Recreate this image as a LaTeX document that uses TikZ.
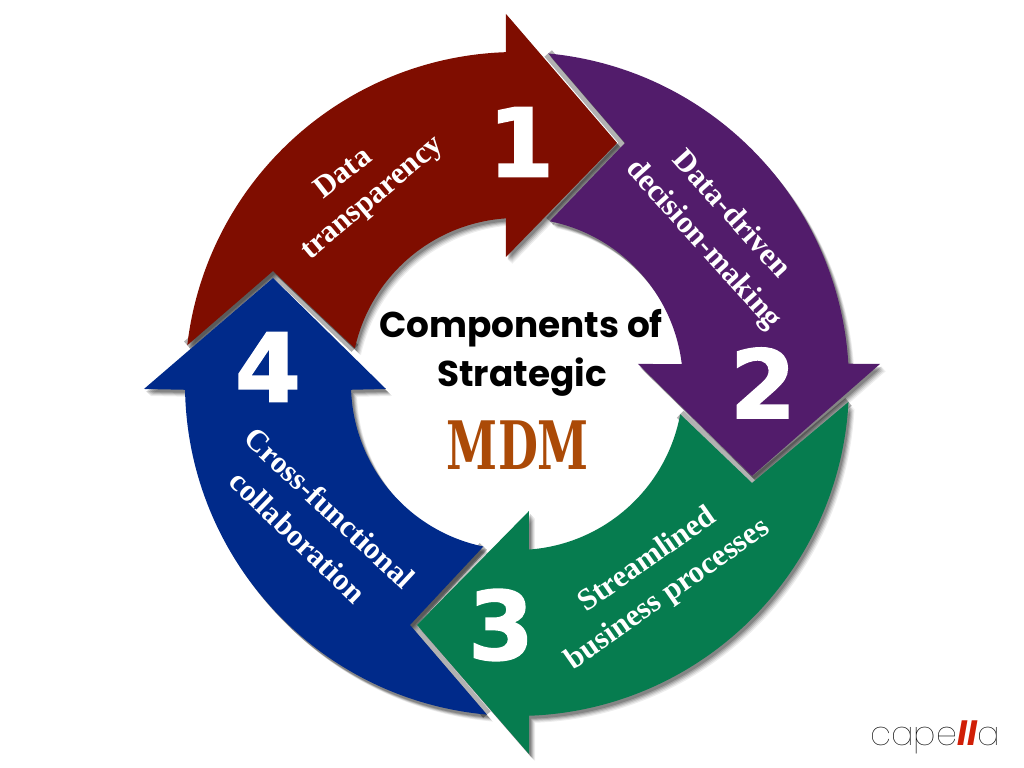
\documentclass[tikz,border=0pt]{standalone}
\usepackage{fontspec}
\setmainfont{Liberation Serif}
\newfontfamily\titlefont{Poppins}
\newfontfamily\numfont[BoldFeatures={FakeBold=1.6}]{DejaVu Sans}
\newfontfamily\slabfont{DejaVu Serif}
\newfontfamily\logofont[UprightFont=* Thin,BoldFont=* Bold,BoldItalicFont=* Bold Italic]{Poppins}
\definecolor{capred}{HTML}{7F0D00}
\definecolor{cappurple}{HTML}{521C6B}
\definecolor{capgreen}{HTML}{067C4F}
\definecolor{capblue}{HTML}{002A8A}
\definecolor{capmdm}{HTML}{AB4A07}
\definecolor{caplogo}{HTML}{D01F07}
\newcommand{\arrowone}{(173.3:332) arc[start angle=173.3,end angle=91.9,radius=332] -- (-11,370) -- (100,241) -- (-11,127) -- (93.8:166) arc[start angle=93.8,end angle=167.6,radius=166] -- (-244,113) -- cycle}
\newcommand{\arrowtwo}{(84.6:332) arc[start angle=84.6,end angle=3.5,radius=332] -- (363,20) -- (235,-92) -- (121,20) -- (6.9:166) arc[start angle=6.9,end angle=78.6,radius=166] -- (108,241) -- cycle}
\newcommand{\arrowthree}{(-3.1:332) arc[start angle=-3.1,end angle=-87.9,radius=332] -- (12,-370) -- (-100,-241) -- (12,-127) -- (-85.9:166) arc[start angle=-85.9,end angle=-10.5,radius=166] -- (235,-99) -- cycle}
\newcommand{\arrowfour}{(264.8:332) arc[start angle=264.8,end angle=181,radius=332] -- (-373,-5) -- (-244,106) -- (-131,-5) -- (182:166) arc[start angle=182,end angle=258.3,radius=166] -- (-107,-241) -- cycle}
\tikzset{
numlabel/.style={text=white,font=\numfont\bfseries\fontsize{27}{27}\selectfont},
bandlabel/.style={text=white,font=\bfseries\fontsize{8.8}{8.8}\selectfont},
titlelabel/.style={text=black,font=\titlefont\bfseries\fontsize{10.2}{10.2}\selectfont},
gapline/.style={black!30,line width=2.8pt}
}
\begin{document}
\begin{tikzpicture}[x=0.01cm,y=0.01cm]
    \useasboundingbox (-517,-384) rectangle (507,384);

    \draw[gapline] (173.3:332) -- (-244,113) -- (167.6:166);
    \draw[gapline] (84.6:332) -- (108,241) -- (78.6:166);
    \draw[gapline] (-3.1:332) -- (235,-99) -- (-10.5:166);
    \draw[gapline] (264.8:332) -- (-107,-241) -- (258.3:166);

    \foreach \sx/\sy/\so in {6/-7/0.07,5/-6/0.09,4/-5/0.12,3/-4/0.15,2/-3/0.18}{
        \begin{scope}[shift={(\sx,\sy)}]
            \fill[black,opacity=\so] \arrowone;
            \fill[black,opacity=\so] \arrowtwo;
            \fill[black,opacity=\so] \arrowthree;
            \fill[black,opacity=\so] \arrowfour;
        \end{scope}
    }

    \fill[capred] \arrowone;
    \fill[cappurple] \arrowtwo;
    \fill[capgreen] \arrowthree;
    \fill[capblue] \arrowfour;

    \node[numlabel] (N1) at (4,242) {1};
    \node[numlabel] (N2) at (246,1) {2};
    \node[numlabel] (N3) at (-16,-241) {3};
    \node[numlabel] (N4) at (-249,17) {4};

    \node[bandlabel,rotate=38] (L1a) at (-175,212) {Data};
    \node[bandlabel,rotate=40] (L1b) at (-143,184) {transparency};
    \node[bandlabel,rotate=-48] (L2a) at (216,171) {Data-driven};
    \node[bandlabel,rotate=-48] (L2b) at (186,139) {decision-making};
    \node[bandlabel,rotate=35] (L3a) at (129,-174) {Streamlined};
    \node[bandlabel,rotate=35] (L3b) at (151,-211) {business processes};
    \node[bandlabel,rotate=-43] (L4a) at (-187,-124) {Cross-functional};
    \node[bandlabel,rotate=-44] (L4b) at (-219,-153) {collaboration};

    \node[titlelabel] (T1) at (4,56) {Components of};
    \node[titlelabel] (T2) at (5,7) {Strategic};
    \node[text=capmdm,xscale=0.69,font=\slabfont\bfseries\fontsize{19}{19}\selectfont] (T3) at (1,-61) {MDM};

    \node[font=\logofont\fontsize{9.5}{9.5}\selectfont] (logo) at (418,-353) {cape\textcolor{caplogo}{\bfseries\itshape ll}a};
\end{tikzpicture}
\end{document}
